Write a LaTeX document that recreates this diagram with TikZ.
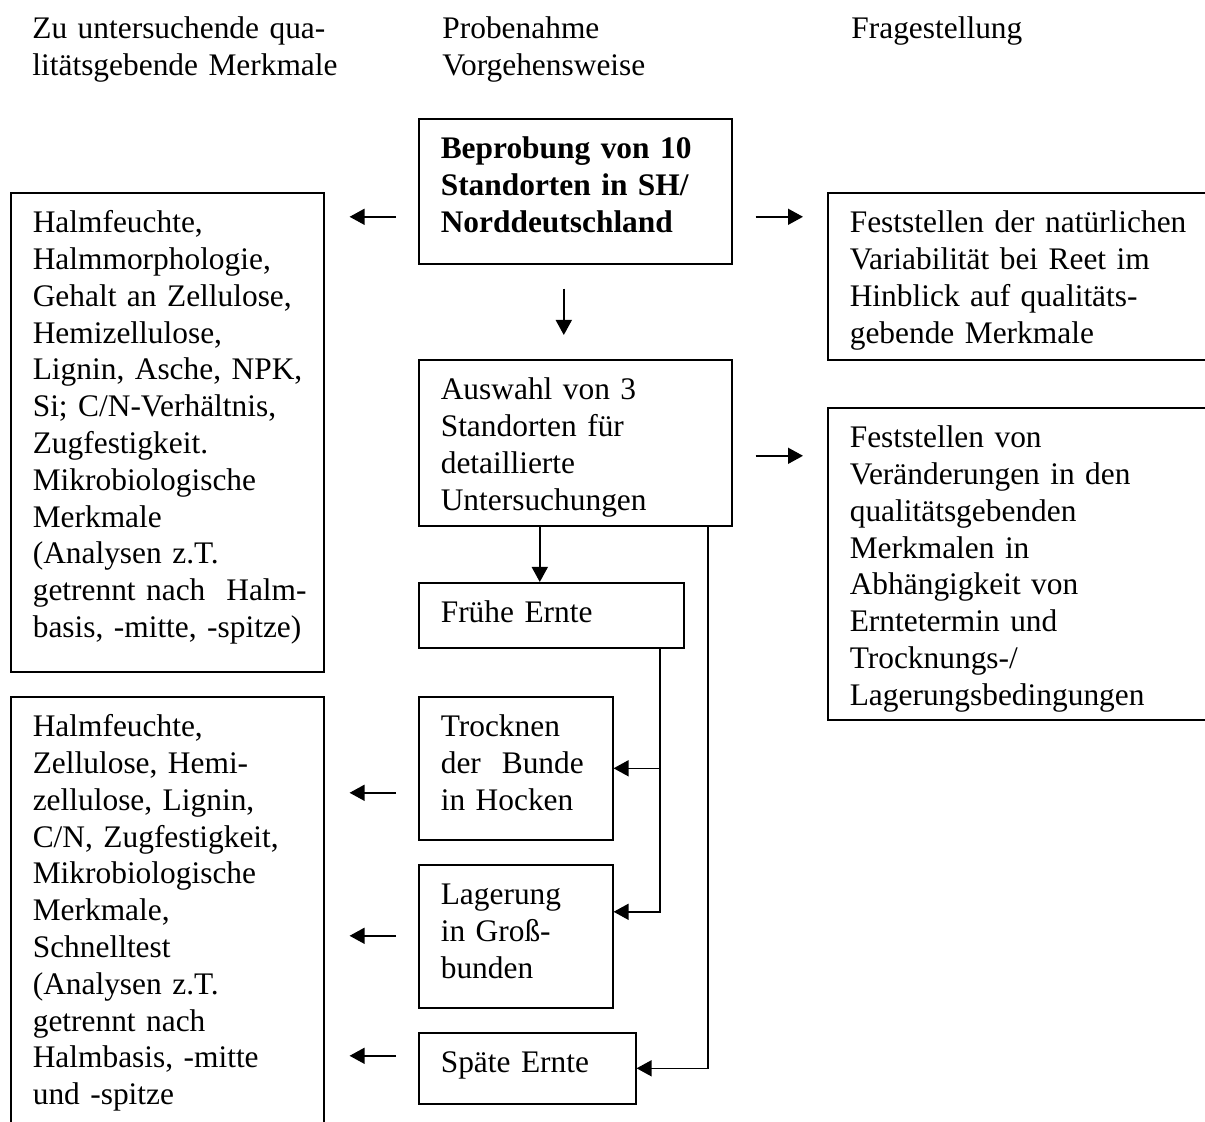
\documentclass[tikz,border=0pt]{standalone}
\usepackage{fontspec}
\setmainfont{Liberation Serif}
\usetikzlibrary{arrows.meta}

\begin{document}
\begin{tikzpicture}[x=0.5pt, y=-0.5pt,
    every node/.style={font=\fontsize{15.7pt}{18.4pt}\selectfont},
    box/.style={draw, line width=0.8pt, anchor=north west, align=left, inner xsep=0pt, inner ysep=8pt,
        text height=12pt, execute at begin node={\leftskip=11pt}},
    head/.style={anchor=base west, align=left, inner sep=0pt, text width=180pt},
    arr/.style={-{Triangle[length=7.5pt, width=8pt]}, line width=0.8pt},
    tolink/.style={arr, shorten <=11pt, shorten >=12.5pt},
    frlink/.style={arr, shorten <=11.5pt, shorten >=12pt}]

    \useasboundingbox (0,0) rectangle (1205,1122);
    \clip (0,0) rectangle (1205,1122);

    % column headers
    \node[head] (hleft) at (32,39) {Zu untersuchende qua-\\litätsgebende Merkmale};
    \node[head] (hmid) at (442,39) {Probenahme\\Vorgehensweise};
    \node[head] (hright) at (851,39) {Fragestellung};

    % middle column
    \node[box, text width=156.5pt, text depth=44.5pt, font=\fontsize{15.7pt}{18.4pt}\selectfont\bfseries] (beprobung) at (418,118)
        {Beprobung von 10\\Standorten in SH/\\Norddeutschland};
    \node[box, text width=156.5pt, text depth=55pt] (auswahl) at (418,359)
        {Auswahl von 3\\Standorten für\\detaillierte\\Untersuchungen};
    \node[box, text width=132.5pt, text depth=4.5pt] (frueh) at (418,582) {Frühe Ernte};
    \node[box, text width=97pt, text depth=43.5pt] (trocknen) at (418,696) {Trocknen\\der~ Bunde\\in Hocken};
    \node[box, text width=97pt, text depth=43.5pt] (lagerung) at (418,864) {Lagerung\\in Groß-\\bunden};
    \node[box, text width=108.5pt, text depth=7.5pt] (spaet) at (418,1032) {Späte Ernte};

    % left column
    \node[box, text width=156.5pt, text depth=211.5pt] (merkmale) at (10,192)
        {Halmfeuchte,\\Halmmorphologie,\\Gehalt an Zellulose,\\Hemizellulose,\\Lignin, Asche, NPK,\\Si; C/N-Verhältnis,\\Zugfestigkeit.\\Mikrobiologische\\Merkmale\\(Analysen z.T.\\getrennt nach~ Halm-\\basis, -mitte, -spitze)};
    \node[box, text width=156.5pt, text depth=204pt] (lagermerkmale) at (10,696)
        {Halmfeuchte,\\Zellulose, Hemi-\\zellulose, Lignin,\\C/N, Zugfestigkeit,\\Mikrobiologische\\Merkmale,\\Schnelltest\\(Analysen z.T.\\getrennt nach\\Halmbasis, -mitte\\und -spitze};

    % right column
    \node[box, text width=194pt, text depth=55.5pt] (variabel) at (827,192)
        {Feststellen der natürlichen\\Variabilität bei Reet im\\Hinblick auf qualitäts-\\gebende Merkmale};
    \node[box, text width=194pt, text depth=128pt] (veraend) at (827,407)
        {Feststellen von\\Veränderungen in den\\qualitätsgebenden\\Merkmalen in\\Abhängigkeit von\\Erntetermin und\\Trocknungs-/\\Lagerungsbedingungen};

    % connectors
    \draw[arr, shorten <=12pt, shorten >=12pt] ([xshift=-5.75pt]beprobung.south) -- ([xshift=-5.75pt]beprobung.south |- auswahl.north);
    \draw[tolink] ([yshift=-12.75pt]beprobung.west) -- ([yshift=-12.75pt]beprobung.west -| merkmale.east);
    \draw[frlink] ([yshift=-12.75pt]beprobung.east) -- ([yshift=-12.75pt]beprobung.east -| variabel.west);
    \draw[frlink] ([yshift=-6.5pt]auswahl.east) -- ([yshift=-6.5pt]auswahl.east -| veraend.west);
    \draw[arr] ([xshift=-17.75pt]auswahl.south) -- ([xshift=-17.75pt]auswahl.south |- frueh.north);
    \draw[arr] ([xshift=66.25pt]auswahl.south) |- (spaet.east);
    \draw[arr] ([xshift=54.25pt]frueh.south) |- (trocknen.east);
    \draw[arr] ([xshift=54.25pt]frueh.south) |- ([yshift=12.25pt]lagerung.east);
    \draw[tolink] ([yshift=-12.25pt]trocknen.west) -- ([yshift=-12.25pt]trocknen.west -| lagermerkmale.east);
    \draw[tolink] ([yshift=0.25pt]lagerung.west) -- ([yshift=0.25pt]lagerung.west -| lagermerkmale.east);
    \draw[tolink] ([yshift=6.25pt]spaet.west) -- ([yshift=6.25pt]spaet.west -| lagermerkmale.east);
\end{tikzpicture}
\end{document}
